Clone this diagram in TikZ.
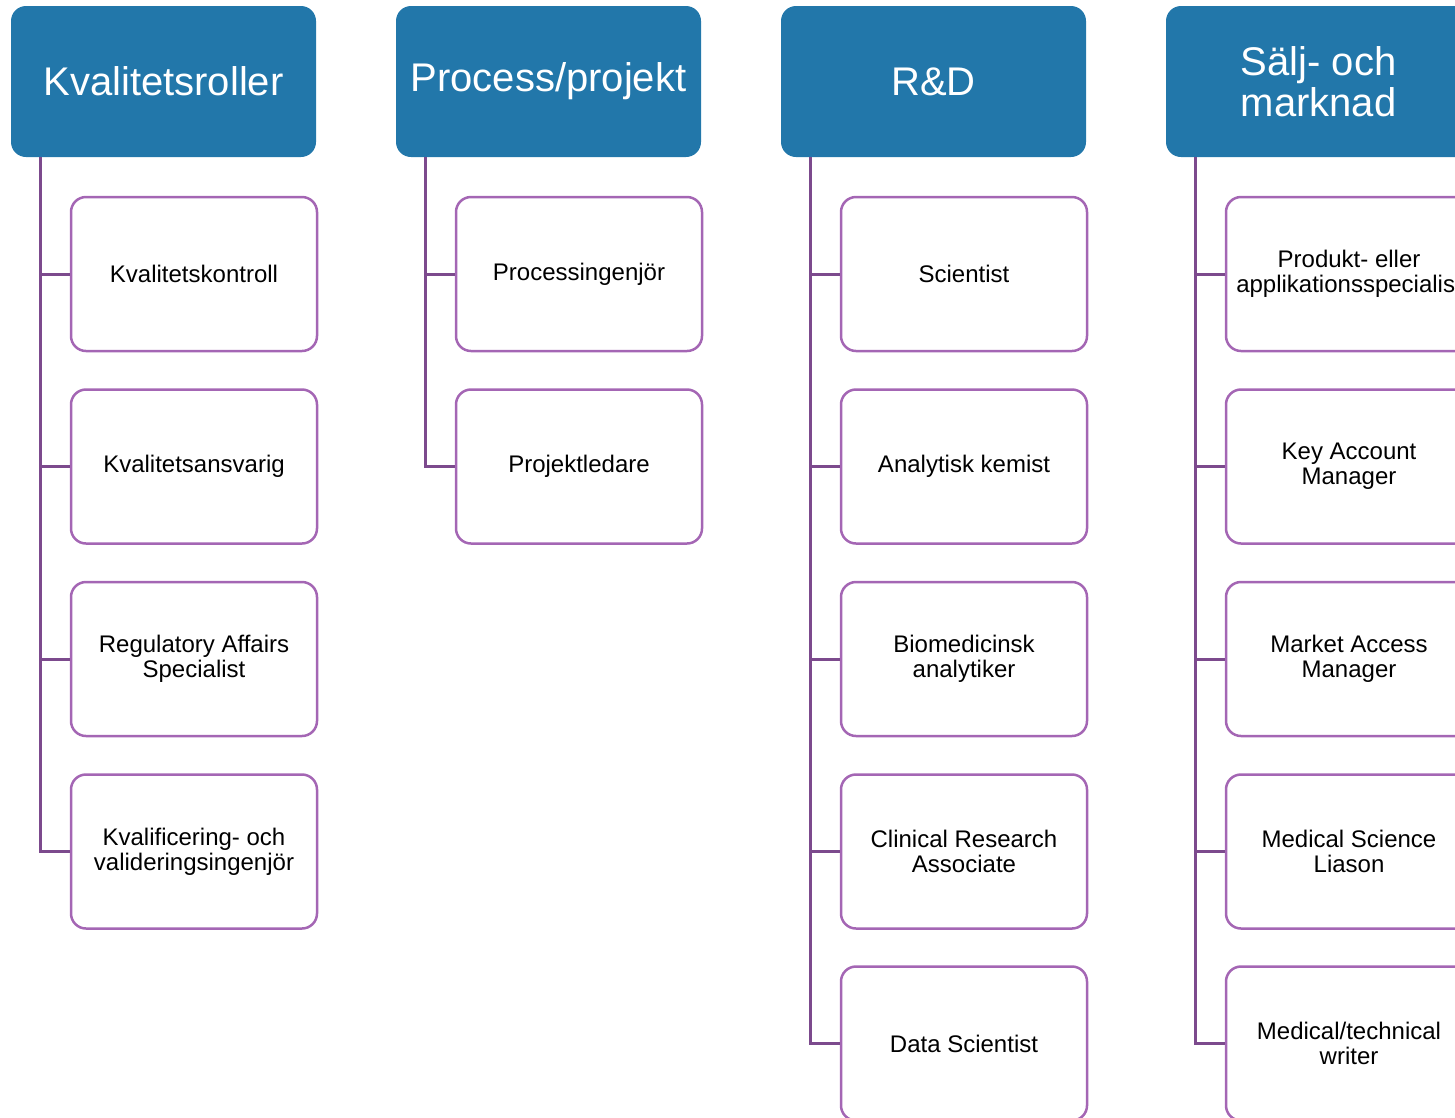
\documentclass[tikz,border=0pt]{standalone}
\usepackage{fontspec}
\setmainfont{Liberation Sans}
\definecolor{headblue}{HTML}{2277AA}
\definecolor{boxpurple}{HTML}{A466B4}
\definecolor{linkpurple}{HTML}{7C4A8D}
\begin{document}
\begin{tikzpicture}[
		x=1pt, y=-1pt,
		head/.style={rectangle,rounded corners=15pt,fill=headblue,text=white,
		inner sep=0pt,minimum width=305pt,minimum height=151pt,align=center,
		font=\fontsize{40}{41}\selectfont},
		role/.style={rectangle,rounded corners=15pt,draw=boxpurple,fill=white,
		line width=2.5pt,inner sep=0pt,minimum width=246pt,minimum height=154pt,
		align=center,font=\fontsize{24}{25}\selectfont},
		link/.style={draw=linkpurple,line width=3pt}
		]
		\useasboundingbox (0,0) rectangle (1455,1117);
		\clip (0,0) rectangle (1455,1117);
		% headers
		\node[head] (h1) at (163.5,81.5)  {Kvalitetsroller};
		\node[head] (h2) at (548.5,81.5)  {Process/projekt};
		\node[head] (h3) at (933.5,81.5)  {R\&D};
		\node[head] (h4) at (1318.5,81.5) {Sälj- och\\marknad};
		% Kvalitetsroller
		\node[role] (q1) at (194,274)    {Kvalitetskontroll};
		\node[role] (q2) at (194,466.5)  {Kvalitetsansvarig};
		\node[role] (q3) at (194,659)    {Regulatory Affairs\\Specialist};
		\node[role] (q4) at (194,851.5)  {Kvalificering- och\\valideringsingenjör};
		% Process/projekt
		\node[role] (p1) at (579,274)    {Processingenjör};
		\node[role] (p2) at (579,466.5)  {Projektledare};
		% R&D
		\node[role] (r1) at (964,274)    {Scientist};
		\node[role] (r2) at (964,466.5)  {Analytisk kemist};
		\node[role] (r3) at (964,659)    {Biomedicinsk\\analytiker};
		\node[role] (r4) at (964,851.5)  {Clinical Research\\Associate};
		\node[role] (r5) at (964,1043.5) {Data Scientist};
		% Sälj- och marknad
		\node[role] (s1) at (1349,274)    {Produkt- eller\\applikationsspecialist};
		\node[role] (s2) at (1349,466.5)  {Key Account\\Manager};
		\node[role] (s3) at (1349,659)    {Market Access\\Manager};
		\node[role] (s4) at (1349,851.5)  {Medical Science\\Liason};
		\node[role] (s5) at (1349,1043.5) {Medical/technical\\writer};
		% connectors
		\draw[link] ([xshift=30]h1.south west) |- (q1.west);
		\draw[link] ([xshift=30]h1.south west) |- (q2.west);
		\draw[link] ([xshift=30]h1.south west) |- (q3.west);
		\draw[link] ([xshift=30]h1.south west) |- (q4.west);
		\draw[link] ([xshift=30]h2.south west) |- (p1.west);
		\draw[link] ([xshift=30]h2.south west) |- (p2.west);
		\draw[link] ([xshift=30]h3.south west) |- (r1.west);
		\draw[link] ([xshift=30]h3.south west) |- (r2.west);
		\draw[link] ([xshift=30]h3.south west) |- (r3.west);
		\draw[link] ([xshift=30]h3.south west) |- (r4.west);
		\draw[link] ([xshift=30]h3.south west) |- (r5.west);
		\draw[link] ([xshift=30]h4.south west) |- (s1.west);
		\draw[link] ([xshift=30]h4.south west) |- (s2.west);
		\draw[link] ([xshift=30]h4.south west) |- (s3.west);
		\draw[link] ([xshift=30]h4.south west) |- (s4.west);
		\draw[link] ([xshift=30]h4.south west) |- (s5.west);
	\end{tikzpicture}
\end{document}
